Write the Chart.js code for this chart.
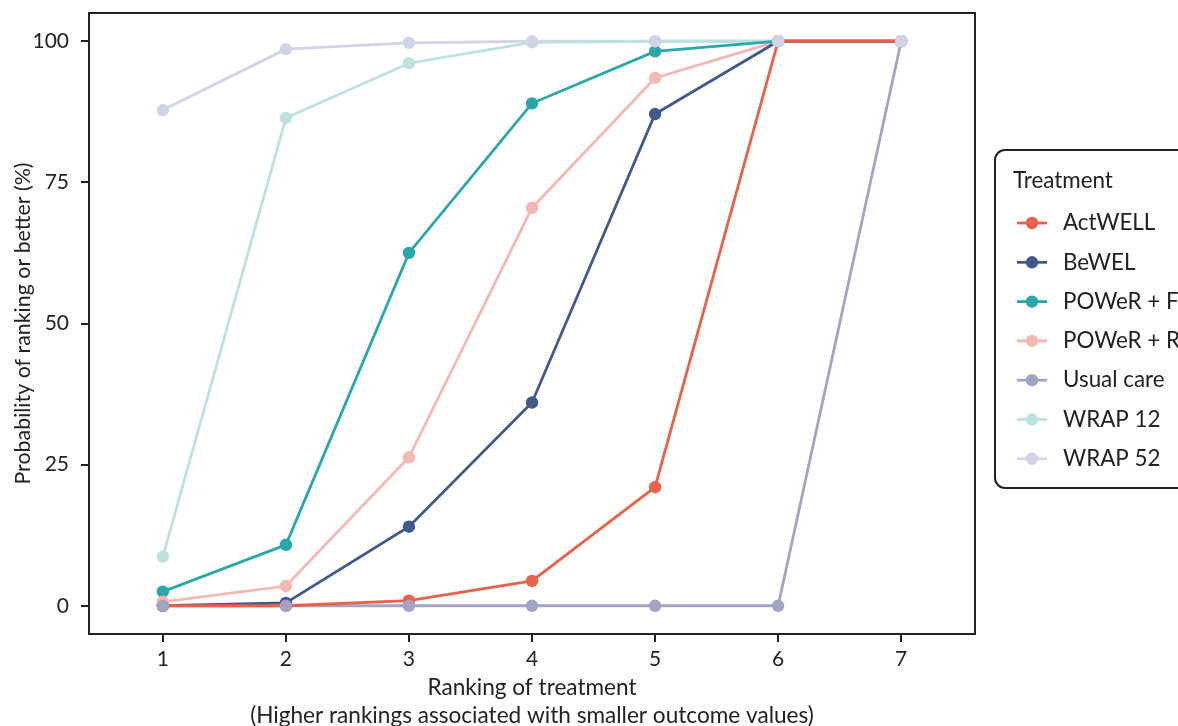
<!DOCTYPE html>
<html>
<head>
<meta charset="utf-8">
<script src="https://cdn.jsdelivr.net/npm/chart.js@4"></script>
<style>
  html, body { margin: 0; padding: 0; background: #fff; }
  #wrap { width: 1178px; height: 726px; }
</style>
</head>
<body>
<div id="wrap"><canvas id="rankChart" width="1178" height="726"></canvas></div>
<script>
const rankings = [1, 2, 3, 4, 5, 6, 7];
const yTicks = [0, 25, 50, 75, 100];

const actwell   = [0, 0, 0.9, 4.4, 21.0, 100, 100];
const bewel     = [0, 0.5, 14.0, 36.0, 87.1, 100, 100];
const powerF    = [2.5, 10.8, 62.5, 89.0, 98.2, 100, 100];
const powerR    = [0.7, 3.5, 26.3, 70.5, 93.5, 100, 100];
const usualCare = [0, 0, 0, 0, 0, 0, 100];
const wrap12    = [8.7, 86.4, 96.1, 99.8, 100, 100, 100];
const wrap52    = [87.8, 98.6, 99.7, 100, 100, 100, 100];

const treatments = ['ActWELL', 'BeWEL', 'POWeR + F', 'POWeR + R', 'Usual care', 'WRAP 12', 'WRAP 52'];
const seriesValues = [actwell, bewel, powerF, powerR, usualCare, wrap12, wrap52];
const colours = ['#E9604B', '#3F5A8B', '#2AA7A9', '#F3B8B1', '#A4A3C4', '#BDE1E1', '#D3D3E7'];

const FONT = 'Lato, "DejaVu Sans", sans-serif';
const INK = '#222222';

function pts(vals) {
  return vals.map((v, i) => ({ x: rankings[i], y: v }));
}

// lines first (ActWELL ends up on top), then markers above them (WRAP 52 on top)
const datasets = [];
treatments.forEach((name, i) => {
  datasets.push({
    label: name,
    data: pts(seriesValues[i]),
    borderColor: colours[i],
    borderWidth: 2.8,
    pointRadius: 0,
    showLine: true,
    order: 10 + i
  });
});
treatments.forEach((name, i) => {
  datasets.push({
    label: name + ' points',
    data: pts(seriesValues[i]),
    backgroundColor: colours[i],
    borderColor: colours[i],
    borderWidth: 0,
    pointRadius: 6.2,
    showLine: false,
    order: treatments.length - i
  });
});

// panel box and the legend on the right
const framePlugin = {
  id: 'frame',
  afterDraw(chart) {
    const { ctx, chartArea: a } = chart;
    ctx.save();
    ctx.strokeStyle = INK;
    ctx.lineWidth = 2;
    ctx.strokeRect(a.left, a.top, a.right - a.left, a.bottom - a.top);

    // legend box
    const bx = 995, by = 150, bw = 260, bh = 338, r = 10;
    ctx.beginPath();
    ctx.moveTo(bx + r, by);
    ctx.lineTo(bx + bw - r, by);
    ctx.arcTo(bx + bw, by, bx + bw, by + r, r);
    ctx.lineTo(bx + bw, by + bh - r);
    ctx.arcTo(bx + bw, by + bh, bx + bw - r, by + bh, r);
    ctx.lineTo(bx + r, by + bh);
    ctx.arcTo(bx, by + bh, bx, by + bh - r, r);
    ctx.lineTo(bx, by + r);
    ctx.arcTo(bx, by, bx + r, by, r);
    ctx.closePath();
    ctx.stroke();

    ctx.fillStyle = INK;
    ctx.textBaseline = 'middle';
    ctx.textAlign = 'left';
    ctx.font = '22.4px ' + FONT;
    ctx.fillText('Treatment', 1013, 181);

    treatments.forEach((name, i) => {
      const y = 223 + i * 39.3;
      ctx.strokeStyle = colours[i];
      ctx.lineWidth = 2.8;
      ctx.beginPath();
      ctx.moveTo(1017, y);
      ctx.lineTo(1047, y);
      ctx.stroke();
      ctx.fillStyle = colours[i];
      ctx.beginPath();
      ctx.arc(1032, y, 6.2, 0, Math.PI * 2);
      ctx.fill();
      ctx.fillStyle = INK;
      ctx.fillText(name, 1063, y);
    });
    ctx.restore();
  }
};

const ctx = document.getElementById('rankChart').getContext('2d');

const rankChart = new Chart(ctx, {
  type: 'scatter',
  data: { datasets: datasets },
  options: {
    responsive: false,
    animation: false,
    layout: { padding: { top: 13, right: 203, left: 0, bottom: 0 } },
    plugins: {
      legend: { display: false },
      tooltip: { enabled: false }
    },
    scales: {
      x: {
        type: 'linear',
        min: 0.4,
        max: 7.6,
        afterBuildTicks: s => { s.ticks = rankings.map(v => ({ value: v })); },
        afterFit: s => { s.height = 92; s.paddingLeft = 0; s.paddingRight = 0; },
        grid: { drawOnChartArea: false, drawTicks: true, tickLength: 8, color: INK, lineWidth: 2 },
        border: { display: true, color: INK, width: 2 },
        ticks: { color: INK, padding: 5, font: { family: FONT, size: 21 }, maxRotation: 0 },
        title: {
          display: true,
          text: ['Ranking of treatment', '(Higher rankings associated with smaller outcome values)'],
          color: INK,
          font: { family: FONT, size: 22.6, lineHeight: 1.24 },
          padding: { top: 0, bottom: -4 }
        }
      },
      y: {
        min: -5,
        max: 105,
        afterBuildTicks: s => { s.ticks = yTicks.map(v => ({ value: v })); },
        afterFit: s => { s.width = 89; s.paddingTop = 0; s.paddingBottom = 0; },
        grid: { drawOnChartArea: false, drawTicks: true, tickLength: 8, color: INK, lineWidth: 2 },
        border: { display: true, color: INK, width: 2 },
        ticks: { color: INK, padding: 12, font: { family: FONT, size: 21 } },
        title: {
          display: true,
          text: 'Probability of ranking or better (%)',
          color: INK,
          font: { family: FONT, size: 21.4 },
          padding: { top: 10, bottom: 0 }
        }
      }
    }
  },
  plugins: [framePlugin]
});
</script>
</body>
</html>
